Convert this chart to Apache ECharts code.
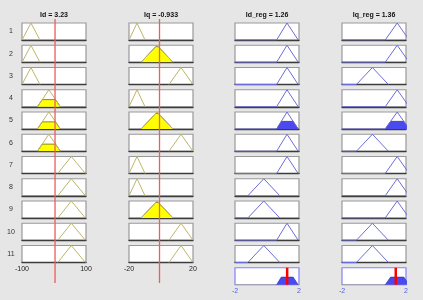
<!DOCTYPE html>
<html><head><meta charset="utf-8">
<script src="https://cdn.jsdelivr.net/npm/echarts@6/dist/echarts.min.js"></script>
<style>html,body{margin:0;padding:0;background:#e6e6e6}#c{width:423px;height:300px}</style>
</head><body><div id="c"></div>
<script>
// ---- data ----
const ruleLabels = ['1','2','3','4','5','6','7','8','9','10','11'];
const titles = ['Id = 3.23', 'Iq = -0.933', 'Id_reg = 1.26', 'Iq_reg = 1.36'];
const idMF = [[-100,-72,-44],[-52,-16,20],[12,54,98]];
const iqMF = [[-20,-15,-10],[-12.5,-2.5,7.5],[5,12.5,20]];
const idRegMF = [[-1.2,-0.2,0.8],[0.6,1.25,1.95]];
const iqRegMF = [[-1.1,-0.1,0.9],[0.7,1.45,2.2]];
const ruleId = [1,1,1,2,2,2,3,3,3,3,3];
const ruleIq = [1,2,3,1,2,3,1,1,2,3,3];
const ruleIdReg = [2,2,2,2,2,2,2,1,1,2,1];
const ruleIqReg = [2,2,1,2,2,1,2,2,2,1,1];
const idDegree = [0,0,0,0.42,0.42,0.42,0,0,0,0,0];
const iqDegree = [0,0.92,0,0,0.92,0,0,0,0.92,0,0];
const ruleStrength = [0,0,0,0,0.45,0,0,0,0,0,0];
const inputValues = [3.23, -0.933];
const outputValues = [1.26, 1.36];
const idTicks = [-100, 100];
const iqTicks = [-20, 20];
const outTicks = [-2, 2];

// ---- layout ----
const colLeft = [22, 129, 235, 342];
const boxW = 64, boxH = 17, top0 = 23, rowStep = 22.25;
const inColor = '#bfb46c', outColor = '#6c6cd8';

const cols = [
  {range:[-100,100], mfs:idMF, rule:ruleId, deg:idDegree, ticks:idTicks, val:inputValues[0], out:false},
  {range:[-20,20], mfs:iqMF, rule:ruleIq, deg:iqDegree, ticks:iqTicks, val:inputValues[1], out:false},
  {range:[-2,2], mfs:idRegMF, rule:ruleIdReg, deg:ruleStrength, ticks:outTicks, val:outputValues[0], out:true},
  {range:[-2,2], mfs:iqRegMF, rule:ruleIqReg, deg:ruleStrength, ticks:outTicks, val:outputValues[1], out:true}
];

const grid = [], xAxis = [], yAxis = [], series = [], graphic = [];
function addGrid(g, xr, showLine, lineColor, ticks, labelColor){
  const i = grid.length;
  grid.push(g);
  xAxis.push({type:'value', gridIndex:i, min:xr[0], max:xr[1],
    axisLine:{show:showLine, onZero:false, lineStyle:{color:lineColor, width:1.3}},
    axisTick:{show:false}, splitLine:{show:false},
    axisLabel: ticks ? {show:true, customValues:ticks, margin:3, fontSize:7, color:labelColor, fontFamily:'Liberation Sans'} : {show:false}});
  yAxis.push({type:'value', gridIndex:i, min:0, max:1, show:false});
  return i;
}
function trap(mf, d){
  const [a,b,c] = mf;
  return [[a,0],[a+d*(b-a),d],[c-d*(c-b),d],[c,0]];
}

cols.forEach((col, ci) => {
  const left = colLeft[ci];
  for (let r = 0; r < ruleLabels.length; r++) {
    const isLastIn = !col.out && r === ruleLabels.length - 1;
    const gi = addGrid({left:left, top:top0 + r*rowStep, width:boxW, height:boxH, show:true,
      backgroundColor:'#ffffff', borderColor:'#999999', borderWidth:1.2},
      col.range, true, '#3c3c3c', isLastIn ? col.ticks : null, '#222');
    const mf = col.mfs[col.rule[r] - 1];
    const d = col.deg[r];
    if (d > 0) {
      series.push({type:'line', xAxisIndex:gi, yAxisIndex:gi, data:trap(mf, d), symbol:'none',
        lineStyle:{color:'#333', width:0.6}, areaStyle:{color: col.out ? '#4a4af0' : '#ffff00', opacity:1}, z:3});
    }
    const pts = col.out ? [[col.range[0],0],[mf[0],0],[mf[1],1],[mf[2],0]] : [[mf[0],0],[mf[1],1],[mf[2],0]];
    series.push({type:'line', xAxisIndex:gi, yAxisIndex:gi, data:pts, symbol:'none',
      lineStyle:{color: col.out ? outColor : inColor, width:1}, z:4});
  }
  if (col.out) {
    const gi = addGrid({left:left, top:top0 + 11*rowStep, width:boxW, height:boxH, show:true,
      backgroundColor:'#ffffff', borderColor:'#8080ff', borderWidth:1.2},
      col.range, false, '#8080ff', col.ticks, '#5a5ae6');
    series.push({type:'line', xAxisIndex:gi, yAxisIndex:gi, data:[[col.range[0],0],[col.range[1],0]], symbol:'none',
      lineStyle:{color:'#a0a0a0', width:1.2}, z:2});
    for (let r = 0; r < ruleLabels.length; r++) {
      const d = col.deg[r];
      if (d > 0) {
        const mf = col.mfs[col.rule[r] - 1];
        series.push({type:'line', xAxisIndex:gi, yAxisIndex:gi, data:trap(mf, d), symbol:'none',
          lineStyle:{color:'#3030a0', width:0.6}, areaStyle:{color:'#4a4af0', opacity:1}, z:3});
      }
    }
    series.push({type:'line', xAxisIndex:gi, yAxisIndex:gi, data:[[col.val,0],[col.val,1]], symbol:'none',
      lineStyle:{color:'#ff0000', width:2.5}, z:5});
  } else {
    const gi = addGrid({left:left, top:19, width:boxW, height:264, show:false}, col.range, false, '#000', null, '#000');
    series.push({type:'line', xAxisIndex:gi, yAxisIndex:gi, data:[[col.val,0],[col.val,1]], symbol:'none',
      lineStyle:{color:'#ee5c5c', width:1.3}, z:6, clip:false});
  }
  graphic.push({type:'text', x:left + boxW/2, y:15, z:10, style:{text:titles[ci], align:'center', verticalAlign:'middle',
    font:'bold 7px "Liberation Sans", Arial, sans-serif', fill:'#111'}});
});

ruleLabels.forEach((lab, r) => {
  graphic.push({type:'text', x:11, y:top0 + r*rowStep + boxH/2, style:{text:lab, align:'center', verticalAlign:'middle',
    font:'7px "Liberation Sans", Arial, sans-serif', fill:'#333'}});
});

const chart = echarts.init(document.getElementById('c'), null, {renderer:'canvas'});
chart.setOption({
  backgroundColor:'#e6e6e6',
  animation:false,
  grid, xAxis, yAxis, series, graphic
});
</script></body></html>
